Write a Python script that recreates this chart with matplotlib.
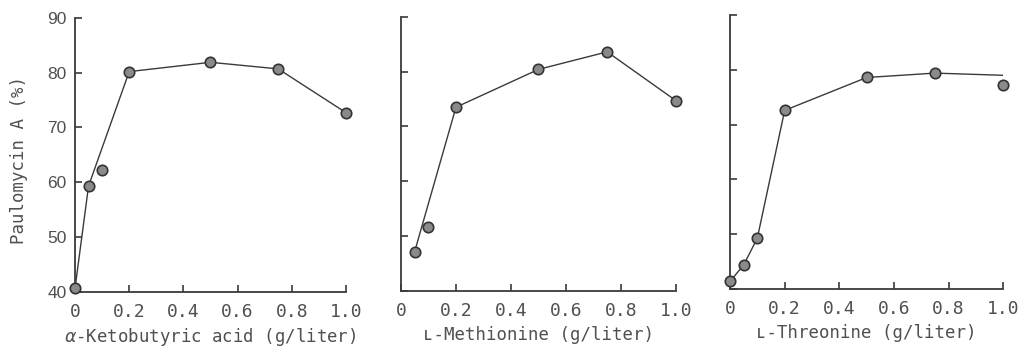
import matplotlib
matplotlib.use("Agg")
import matplotlib.pyplot as plt

# panel 1: alpha-ketobutyric acid
keto_x = [0, 0.05, 0.1, 0.2, 0.5, 0.75, 1.0]
keto_y = [40.6, 59.3, 62.2, 80.2, 81.9, 80.7, 72.7]
keto_line_x = [0, 0.05, 0.2, 0.5, 0.75, 1.0]
keto_line_y = [40.6, 59.3, 80.2, 81.9, 80.7, 72.7]

# panel 2: L-methionine
meth_x = [0.05, 0.1, 0.2, 0.5, 0.75, 1.0]
meth_y = [47.2, 51.7, 73.5, 80.4, 83.6, 74.7]
meth_line_x = [0.05, 0.2, 0.5, 0.75, 1.0]
meth_line_y = [47.2, 73.5, 80.4, 83.6, 74.7]

# panel 3: L-threonine
thr_x = [0, 0.05, 0.1, 0.2, 0.5, 0.75, 1.0]
thr_y = [41.4, 44.4, 49.3, 72.6, 78.6, 79.4, 77.3]
thr_line_x = [0, 0.05, 0.1, 0.2, 0.5, 0.75, 1.0]
thr_line_y = [41.4, 44.4, 49.3, 72.6, 78.6, 79.4, 79.0]

x_ticks = [0, 0.2, 0.4, 0.6, 0.8, 1.0]
x_ticklabels = ["0", "0.2", "0.4", "0.6", "0.8", "1.0"]
y_ticks = [40, 50, 60, 70, 80, 90]
x_labels = [r"$\alpha$-Ketobutyric acid (g/liter)",
            "ʟ-Methionine (g/liter)",
            "ʟ-Threonine (g/liter)"]
y_label = "Paulomycin A (%)"

ink = "#3a3a3a"
text_col = "#505050"
mono = ["DejaVu Sans Mono", "DejaVu Sans"]

fig = plt.figure(figsize=(10.26, 3.53), dpi=100)
boxes = [[0.0731, 0.1737, 0.2641, 0.7754],
         [0.3908, 0.1756, 0.2680, 0.7770],
         [0.7115, 0.1810, 0.2664, 0.7765]]

panels = [(keto_x, keto_y, keto_line_x, keto_line_y),
          (meth_x, meth_y, meth_line_x, meth_line_y),
          (thr_x, thr_y, thr_line_x, thr_line_y)]

for i, (px, py, lx, ly) in enumerate(panels):
    ax = fig.add_axes(boxes[i])
    ax.plot(lx, ly, color=ink, linewidth=1.0, zorder=2)
    ax.plot(px, py, linestyle="none", marker="o", markersize=7.5,
            markerfacecolor="#8a8a8a", markeredgecolor="#333333",
            markeredgewidth=1.2, zorder=3, clip_on=False)
    ax.set_xlim(0, 1.0)
    ax.set_ylim(40, 90)
    ax.spines["top"].set_visible(False)
    ax.spines["right"].set_visible(False)
    for s in ["left", "bottom"]:
        ax.spines[s].set_color(ink)
        ax.spines[s].set_linewidth(1.3)
    ax.set_xticks(x_ticks)
    ax.set_xticklabels(x_ticklabels, family="DejaVu Sans Mono",
                       fontsize=13, color=text_col)
    ax.set_yticks(y_ticks)
    ax.tick_params(direction="in", length=5, width=1.2, color=ink)
    ax.tick_params(axis="x", pad=8)
    if i == 0:
        ax.set_yticklabels([str(v) for v in y_ticks], family="Liberation Sans",
                           fontsize=12.5, color=text_col)
        ax.tick_params(axis="y", pad=6)
        ax.set_ylabel(y_label, family=mono, fontsize=12.5, color=text_col)
        ax.yaxis.set_label_coords(-0.175, 0.48)
    else:
        ax.set_yticklabels([])
    ax.set_xlabel(x_labels[i], family=mono, fontsize=12.5, color=text_col,
                  labelpad=4)

fig.savefig("out.png", dpi=100)
